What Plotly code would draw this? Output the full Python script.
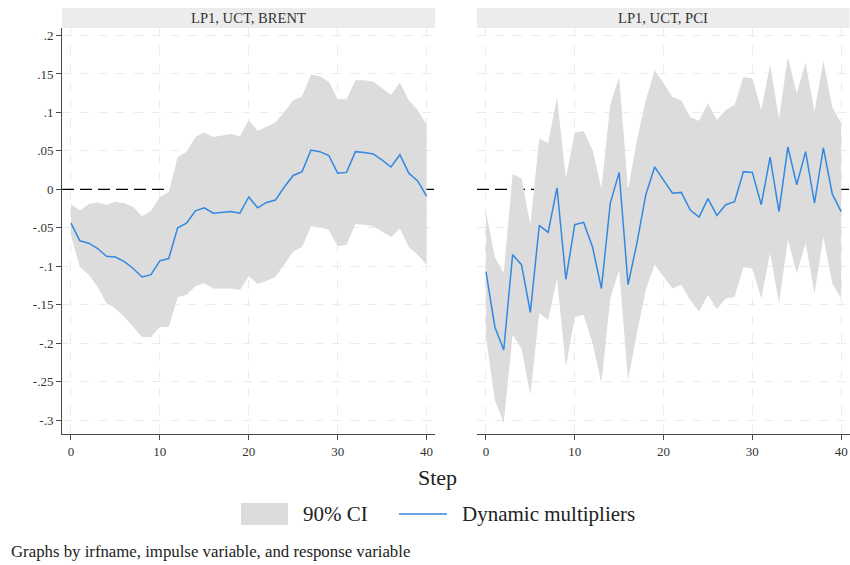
import plotly.graph_objects as go

# Horizon (steps) shared by both panels
steps = list(range(41))

# Panel 1: LP1, UCT, BRENT
brent_irf = [-0.044, -0.067, -0.070, -0.077, -0.087, -0.088, -0.094, -0.103, -0.114, -0.111,
             -0.093, -0.090, -0.050, -0.044, -0.028, -0.024, -0.031, -0.030, -0.029, -0.031,
             -0.010, -0.024, -0.017, -0.014, 0.003, 0.018, 0.023, 0.051, 0.049, 0.044,
             0.021, 0.022, 0.049, 0.048, 0.046, 0.038, 0.029, 0.045, 0.021, 0.011, -0.009]
brent_upper = [-0.019, -0.028, -0.019, -0.017, -0.020, -0.016, -0.018, -0.023, -0.035, -0.028,
               -0.010, -0.003, 0.042, 0.049, 0.068, 0.074, 0.068, 0.070, 0.072, 0.069,
               0.090, 0.076, 0.082, 0.087, 0.101, 0.116, 0.121, 0.149, 0.147, 0.140,
               0.117, 0.117, 0.142, 0.142, 0.140, 0.131, 0.123, 0.139, 0.116, 0.103, 0.084]
brent_lower = [-0.060, -0.101, -0.111, -0.127, -0.148, -0.155, -0.166, -0.179, -0.192, -0.192,
               -0.179, -0.179, -0.140, -0.137, -0.126, -0.122, -0.129, -0.129, -0.129, -0.131,
               -0.113, -0.123, -0.119, -0.114, -0.098, -0.081, -0.075, -0.048, -0.049, -0.053,
               -0.074, -0.072, -0.045, -0.046, -0.048, -0.055, -0.062, -0.051, -0.075, -0.085, -0.098]

# Panel 2: LP1, UCT, PCI
pci_irf = [-0.107, -0.179, -0.209, -0.085, -0.098, -0.160, -0.047, -0.056, 0.002, -0.117,
           -0.046, -0.043, -0.075, -0.129, -0.018, 0.022, -0.124, -0.070, -0.007, 0.029,
           0.012, -0.005, -0.004, -0.027, -0.036, -0.012, -0.034, -0.020, -0.016, 0.023,
           0.022, -0.020, 0.042, -0.029, 0.055, 0.006, 0.049, -0.018, 0.054, -0.006, -0.029]
pci_upper = [-0.029, -0.088, -0.109, 0.020, 0.014, -0.046, 0.066, 0.060, 0.120, 0.014,
             0.074, 0.076, 0.051, 0.001, 0.110, 0.146, -0.001, 0.064, 0.116, 0.155,
             0.138, 0.120, 0.116, 0.094, 0.089, 0.112, 0.090, 0.103, 0.110, 0.146,
             0.144, 0.103, 0.162, 0.092, 0.172, 0.125, 0.165, 0.101, 0.167, 0.107, 0.086]
pci_lower = [-0.192, -0.274, -0.304, -0.189, -0.207, -0.267, -0.161, -0.170, -0.116, -0.231,
             -0.166, -0.163, -0.200, -0.252, -0.142, -0.105, -0.248, -0.187, -0.131, -0.098,
             -0.114, -0.129, -0.124, -0.144, -0.159, -0.137, -0.156, -0.142, -0.140, -0.101,
             -0.103, -0.142, -0.083, -0.148, -0.066, -0.109, -0.070, -0.135, -0.062, -0.122, -0.142]

panel_titles = ["LP1, UCT, BRENT", "LP1, UCT, PCI"]
y_tickvals = [0.2, 0.15, 0.1, 0.05, 0, -0.05, -0.1, -0.15, -0.2, -0.25, -0.3]
y_ticktext = [".2", ".15", ".1", ".05", "0", "-.05", "-.1", "-.15", "-.2", "-.25", "-.3"]
x_tickvals = [0, 10, 20, 30, 40]
legend_labels = ["90% CI", "Dynamic multipliers"]
footnote = "Graphs by irfname, impulse variable, and response variable"

W, H = 850, 565
SERIF = "Liberation Serif, Times New Roman, serif"
BAND = "#dcdcdc"
LINE = "#3288e2"
STRIP = "#ececec"
AXIS = "#4a4a4a"
GRID = "#ececec"

x_range = [-1.01, 40.95]
y_range = [-0.3182, 0.2098]


def px(v):
    return v / W


def py(v):
    return 1 - v / H


fig = go.Figure()

panels = [
    (brent_irf, brent_upper, brent_lower, "x", "y"),
    (pci_irf, pci_upper, pci_lower, "x2", "y2"),
]
for irf, up, lo, xa, ya in panels:
    # dashed reference line at zero, drawn first so the band covers it
    fig.add_trace(go.Scatter(
        x=x_range, y=[0, 0], mode="lines", hoverinfo="skip",
        line=dict(color="black", width=1.3, dash="12px,6px"),
        showlegend=False, xaxis=xa, yaxis=ya))
    fig.add_trace(go.Scatter(
        x=steps + steps[::-1], y=up + lo[::-1], fill="toself", fillcolor=BAND,
        line=dict(width=0, color=BAND), mode="lines", hoverinfo="skip",
        showlegend=False, xaxis=xa, yaxis=ya))
    fig.add_trace(go.Scatter(
        x=steps, y=irf, mode="lines", line=dict(color=LINE, width=1.5),
        showlegend=False, xaxis=xa, yaxis=ya))

x_doms = [[px(62), px(435)], [px(477), 0.9995]]
y_dom = [py(434), py(28)]

common_x = dict(range=x_range, tickvals=x_tickvals, showline=True, linecolor=AXIS, linewidth=1,
                ticks="outside", ticklen=5, tickcolor=AXIS, showgrid=True, gridcolor=GRID,
                griddash="dash", gridwidth=1, zeroline=False,
                tickfont=dict(family=SERIF, size=13, color="#333"))
fig.update_layout(
    xaxis=dict(domain=x_doms[0], anchor="y", **common_x),
    xaxis2=dict(domain=x_doms[1], anchor="y2", **common_x),
    yaxis=dict(domain=y_dom, anchor="x", range=y_range, tickvals=y_tickvals, ticktext=y_ticktext,
               showline=True, linecolor=AXIS, linewidth=1, ticks="outside", ticklen=5,
               tickcolor=AXIS, showgrid=True, gridcolor=GRID, griddash="dash", zeroline=False,
               tickfont=dict(family=SERIF, size=13, color="#333")),
    yaxis2=dict(domain=y_dom, anchor="x2", range=y_range, tickvals=y_tickvals,
                showticklabels=False, showline=False, ticks="", showgrid=True, gridcolor=GRID,
                griddash="dash", zeroline=False),
)

shapes = []
annotations = []
for xd, title in zip(x_doms, panel_titles):
    # panel strip
    shapes.append(dict(type="rect", xref="paper", yref="paper", x0=xd[0], x1=xd[1],
                       y0=py(28), y1=py(8), fillcolor=STRIP, line=dict(width=0)))
    annotations.append(dict(text=title, xref="paper", yref="paper", x=(xd[0] + xd[1]) / 2,
                            y=py(18), showarrow=False, xanchor="center", yanchor="middle",
                            font=dict(family=SERIF, size=14.6, color="#333")))

# axis title
annotations.append(dict(text="Step", xref="paper", yref="paper", x=px(437), y=py(477),
                        showarrow=False, xanchor="center", yanchor="middle",
                        font=dict(family=SERIF, size=22, color="#222")))

# legend keys
shapes.append(dict(type="rect", xref="paper", yref="paper", x0=px(241), x1=px(288),
                   y0=py(525), y1=py(503), fillcolor=BAND, line=dict(width=0)))
annotations.append(dict(text=legend_labels[0], xref="paper", yref="paper", x=px(301), y=py(514),
                        showarrow=False, xanchor="left", yanchor="middle",
                        font=dict(family=SERIF, size=21, color="#222")))
shapes.append(dict(type="line", xref="paper", yref="paper", x0=px(399), x1=px(447),
                   y0=py(514), y1=py(514), line=dict(color=LINE, width=1.5)))
annotations.append(dict(text=legend_labels[1], xref="paper", yref="paper", x=px(460), y=py(514),
                        showarrow=False, xanchor="left", yanchor="middle",
                        font=dict(family=SERIF, size=21, color="#222")))

# note
annotations.append(dict(text=footnote, xref="paper", yref="paper", x=px(9), y=py(551),
                        showarrow=False, xanchor="left", yanchor="middle",
                        font=dict(family=SERIF, size=16.8, color="#222")))

fig.update_layout(
    width=W, height=H, margin=dict(l=0, r=0, t=0, b=0),
    paper_bgcolor="white", plot_bgcolor="white",
    shapes=shapes, annotations=annotations, showlegend=False,
)

fig.write_html("out.html")
